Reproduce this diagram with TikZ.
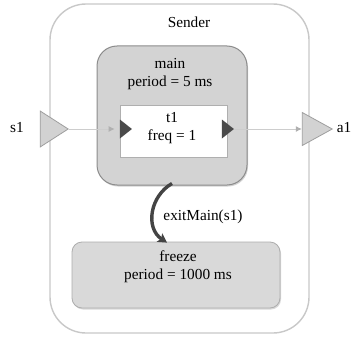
\documentclass[tikz,border=0pt]{standalone}
\usepackage{fontspec}
\setmainfont{Liberation Serif}
\usetikzlibrary{shapes.geometric,arrows.meta,shadows}

\definecolor{boxgray}{HTML}{D3D3D3}
\definecolor{boxedge}{HTML}{8C8C8C}
\definecolor{frzgray}{HTML}{D9D9D9}
\definecolor{frzedge}{HTML}{ADADAD}
\definecolor{outeredge}{HTML}{C8C8C8}
\definecolor{portfill}{HTML}{D2D2D2}
\definecolor{portedge}{HTML}{9E9E9E}
\definecolor{wire}{HTML}{CDCDCD}
\definecolor{wiretip}{HTML}{B0B0B0}
\definecolor{pindark}{HTML}{4A4A4A}
\definecolor{trans}{HTML}{444444}

\tikzset{
  txt/.style={font=\fontsize{15.3}{18}\selectfont, align=center, inner sep=0pt},
  outerbox/.style={draw=outeredge, line width=1.4pt, fill=white, rounded corners=36pt,
    inner sep=0pt},
  statebox/.style={draw=boxedge, line width=1pt, fill=boxgray, rounded corners=20pt,
    inner sep=0pt, drop shadow={shadow xshift=1pt, shadow yshift=-1.5pt, opacity=0.35}},
  frzbox/.style={draw=frzedge, line width=0.8pt, fill=frzgray, rounded corners=10pt,
    inner sep=0pt, drop shadow={shadow xshift=1pt, shadow yshift=-1.5pt, opacity=0.3}},
  taskbox/.style={draw=boxedge!70, line width=0.6pt, fill=white, inner sep=0pt,
    drop shadow={shadow xshift=0.8pt, shadow yshift=-1pt, opacity=0.3}},
  portshape/.style={isosceles triangle, isosceles triangle stretches=true,
    inner sep=0pt, shape border rotate=0},
  extport/.style={portshape, draw=portedge, fill=portfill, line width=0.8pt},
  pinport/.style={portshape, fill=pindark, draw=none},
  wireline/.style={draw=wire, line width=1pt,
    -{Latex[length=6pt, width=6pt, fill=wiretip, color=wiretip]}},
  transarrow/.style={draw=trans, line width=3.4pt,
    -{Stealth[length=9pt, width=10pt, inset=2pt]}},
}

\begin{document}
\begin{tikzpicture}[x=1pt, y=-1pt]
  \useasboundingbox (0,0) rectangle (358,337);

  % component frame
  \node[outerbox, minimum width=259pt, minimum height=329pt] (sender) at (179.5,168.5) {};
  \node[txt] (sendertxt) at (189,22) {Sender};

  % main state with its task
  \node[statebox, minimum width=150pt, minimum height=139pt] (main) at (172,115.5) {};
  \node[txt] (maintxt) at (170,74) {main\\period = 5 ms};
  \node[taskbox, minimum width=107pt, minimum height=52pt] (t1) at (173.5,131) {};
  \node[txt] (t1txt) at (172,128) {t1\\freq = 1};

  % freeze state
  \node[frzbox, minimum width=208pt, minimum height=66pt] (freeze) at (176,275) {};
  \node[txt] (frztxt) at (178,267) {freeze\\period = 1000 ms};

  % ports
  \node[extport, minimum width=36pt, minimum height=28pt] (s1) at (50,129) {};
  \node[extport, minimum width=33pt, minimum height=30pt] (a1) at (312,129) {};
  \node[pinport, minimum width=19pt, minimum height=12pt] (t1in) at (124.5,129) {};
  \node[pinport, minimum width=19pt, minimum height=12pt] (t1out) at (226.5,129) {};
  \node[txt] (s1txt) at (17,128) {s1};
  \node[txt] (a1txt) at (344,128) {a1};

  % data connections
  \draw[wireline, shorten >=5pt] (s1.apex) -- (t1in.west);
  \draw[wireline] (t1out.apex) -- (a1.west);

  % mode transition
  \draw[transarrow] ([xshift=0pt,yshift=2pt]main.south)
    .. controls (150,196) and (145,228) .. ([xshift=-9pt,yshift=-1pt]freeze.north);
  \node[txt] (exittxt) at (203,217) {exitMain(s1)};
\end{tikzpicture}
\end{document}
